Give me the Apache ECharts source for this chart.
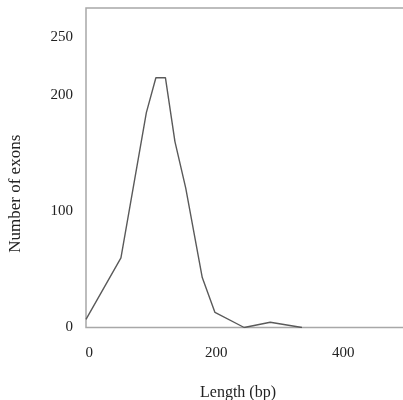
<!DOCTYPE html>
<html>
<head>
<meta charset="utf-8">
<script src="https://cdn.jsdelivr.net/npm/echarts@6/dist/echarts.min.js"></script>
<style>
  html, body { margin: 0; padding: 0; background: #fff; }
  #chart { width: 403px; height: 400px; }
</style>
</head>
<body>
<div id="chart"></div>
<script>
// exon length (bp) vs number of exons
const lengths = [-5, 50, 90, 105, 120, 135, 152, 178, 198, 244, 285, 335];
const counts  = [7, 60, 185, 215, 215, 160, 120, 43, 13, 0, 4.5, 0];
const xTicks = [0, 200, 400];
const yTicks = [0, 100, 200, 250];

const chart = echarts.init(document.getElementById("chart"));
const font = "'Liberation Serif', 'DejaVu Serif', serif";

chart.setOption({
  animation: false,
  grid: {
    left: 86, right: -7, top: 8, bottom: 72.5,
    outerBoundsMode: "none",
    show: true, borderColor: "#a8a8a8", borderWidth: 1.5,
  },
  xAxis: {
    type: "value",
    min: -5, max: 505,
    name: "Length (bp)",
    nameLocation: "middle",
    nameGap: 57,
    nameTextStyle: { fontFamily: font, fontSize: 16, color: "#222", padding: [0, 20, 0, 0] },
    axisLine: { show: false },
    axisTick: { show: false },
    splitLine: { show: false },
    axisLabel: {
      customValues: xTicks,
      margin: 18,
      fontFamily: font, fontSize: 15, color: "#222",
    },
  },
  yAxis: {
    type: "value",
    min: 0, max: 275,
    name: "Number of exons",
    nameLocation: "middle",
    nameGap: 62,
    nameTextStyle: { fontFamily: font, fontSize: 17, color: "#222", padding: [0, 52, 0, 0] },
    axisLine: { show: false },
    axisTick: { show: false },
    splitLine: { show: false },
    axisLabel: {
      customValues: yTicks,
      margin: 13,
      fontFamily: font, fontSize: 15, color: "#222",
    },
  },
  series: [{
    type: "line",
    data: lengths.map((x, i) => [x, counts[i]]),
    showSymbol: false,
    lineStyle: { color: "#5a5a5a", width: 1.4 },
  }],
});
</script>
</body>
</html>
